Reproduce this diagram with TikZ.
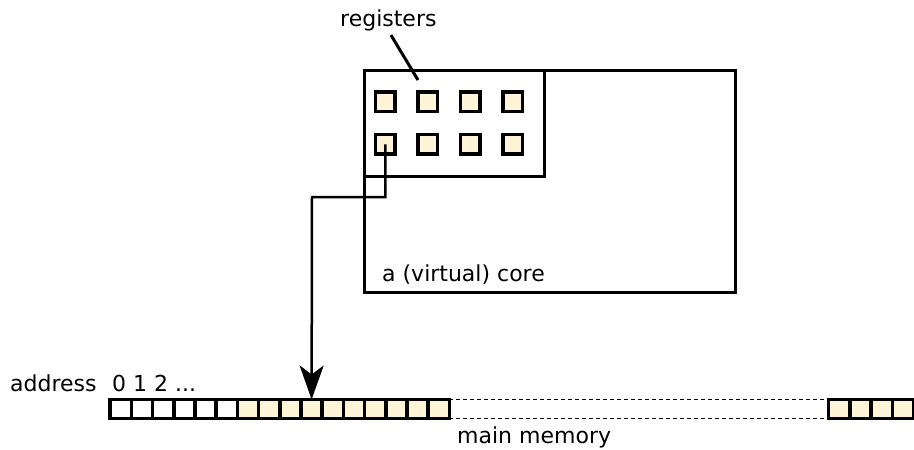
\documentclass[tikz,border=0pt]{standalone}
\usepackage{fontspec}
\setmainfont{DejaVu Sans}
\usetikzlibrary{matrix,arrows.meta}
\definecolor{regfill}{RGB}{255,244,214}

\begin{document}
\begin{tikzpicture}[x=1pt,y=-1pt,font=\fontsize{22}{26}\selectfont,
    cell/.style={draw,line width=3.5pt,minimum width=21.2pt,minimum height=19pt,inner sep=0pt,outer sep=0pt},
    used/.style={fill=regfill},
    box/.style={draw,line width=3pt,inner sep=0pt},
    lbl/.style={inner sep=0pt},
    gap/.style={line width=1.2pt,dash pattern=on 4pt off 3pt}]
  \useasboundingbox (0,0) rectangle (914,450);
  % the core and its registers
  \node (core) [box,minimum width=371pt,minimum height=222pt] at (549.5,181) {};
  \node (regfile) [box,minimum width=180pt,minimum height=106pt,anchor=north west] at (core.north west) {};
  \matrix (regs) [matrix of nodes,nodes in empty cells,inner sep=0pt,
                  nodes={cell,used,minimum width=19.5pt,minimum height=19.5pt},
                  column sep=19.5pt,row sep=19.5pt] at (449,123)
  {
     & & & \\
     & & & \\
  };
  % main memory
  \matrix (mem) [matrix of nodes,nodes in empty cells,inner sep=0pt,
                 nodes={cell},column sep=-3.5pt,anchor=west] at (108.25,409)
  {
     & & & & & & |[used]| & |[used]| & |[used]| & |[used]| & |[used]| & |[used]| & |[used]| & |[used]| & |[used]| & |[used]| \\
  };
  \matrix (tail) [matrix of nodes,nodes in empty cells,inner sep=0pt,
                  nodes={cell,used},column sep=-3.5pt,anchor=west] at (826.75,409)
  {
    & & & \\
  };
  \draw[gap] (mem-1-16.north east) -- (tail-1-1.north west);
  \draw[gap] (mem-1-16.south east) -- (tail-1-1.south west);
  % labels
  \node (reglbl) [lbl,anchor=base west] at (340,26) {registers};
  \node (corelbl) [lbl,anchor=base west] at (382,281) {a (virtual) core};
  \node (addr) [lbl,anchor=base west] at (10,391.5) {address};
  \node (idx) [lbl,anchor=base west] at (112,391.5) {0 1 2 ...};
  \node (memlbl) [lbl,anchor=base west] at (457,443) {main memory};
  \coordinate (regptr) at (418,80);
  \coordinate (bend) at (312,197);
  \draw[line width=3pt,shorten <=5pt] (reglbl.south) -- (regptr);
  \draw[line width=2.5pt,-{Stealth[length=34pt,width=24pt,inset=9pt]}] (regs-2-1.center) |- (bend) -- (mem-1-10.north);
\end{tikzpicture}
\end{document}
